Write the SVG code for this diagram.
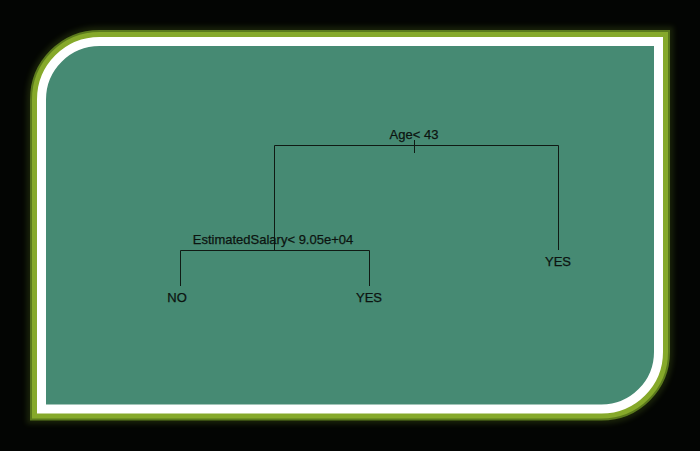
<svg xmlns="http://www.w3.org/2000/svg" width="700" height="451" viewBox="0 0 700 451">
  <defs>
    <filter id="glow" x="-10%" y="-10%" width="120%" height="120%">
      <feGaussianBlur stdDeviation="2.5"/>
    </filter>
    <path id="frame" d="M41.5,409 L41.5,99.5 A58,58 0 0 1 99.5,41.5 L658.5,41.5 L658.5,352 A57,57 0 0 1 601.5,409 Z"/>
  </defs>
  <style>
    .edge { fill: none; stroke: #101a14; stroke-width: 1; }
    .lbl { font-family: "Liberation Sans", Arial, sans-serif; font-size: 13px; fill: #0c1410; stroke: #0c1410; stroke-width: 0.25; text-anchor: middle; }
  </style>

  <!-- background -->
  <rect x="0" y="0" width="700" height="451" fill="#030503"/>

  <!-- panel frame: soft glow, green rim, white border, teal face -->
  <use href="#frame" fill="none" stroke="#6d8f22" stroke-width="30" opacity="0.2" filter="url(#glow)"/>
  <use href="#frame" fill="none" stroke="#5b7a1c" stroke-width="23"/>
  <use href="#frame" fill="none" stroke="#86a92a" stroke-width="19"/>
  <use href="#frame" fill="#468a73" stroke="#ffffff" stroke-width="9"/>

  <!-- connectors -->
  <g id="connectors">
    <path class="edge" d="M274.5,250 L274.5,145.5 L558.5,145.5 L558.5,250"/>
    <path class="edge" d="M414.5,140 L414.5,153"/>
    <path class="edge" d="M180.5,286 L180.5,250.5 L369.5,250.5 L369.5,286"/>
  </g>

  <!-- nodes -->
  <g id="node-age">
    <text class="lbl" x="414" y="139">Age&lt; 43</text>
  </g>
  <g id="node-salary">
    <text class="lbl" x="273" y="244">EstimatedSalary&lt; 9.05e+04</text>
  </g>
  <g id="leaf-no">
    <text class="lbl" x="177" y="302">NO</text>
  </g>
  <g id="leaf-yes-left">
    <text class="lbl" x="369" y="302">YES</text>
  </g>
  <g id="leaf-yes-right">
    <text class="lbl" x="558" y="266">YES</text>
  </g>
</svg>
